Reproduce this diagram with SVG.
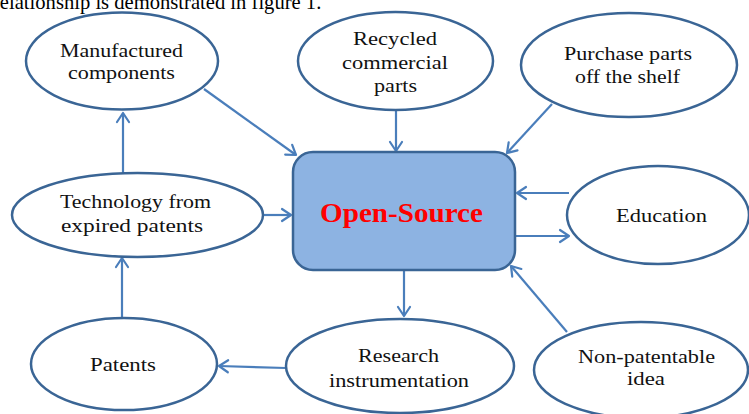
<svg xmlns="http://www.w3.org/2000/svg" width="749" height="414" viewBox="0 0 749 414">
<style>
.node ellipse{fill:#fff;stroke:#3A6595;stroke-width:2.5}
.t{font-family:'Liberation Serif',serif;font-size:19px;fill:#111;text-anchor:middle}
.big{font-family:'Liberation Serif',serif;font-size:27px;font-weight:bold;fill:#FF0000;text-anchor:middle}
.c line{stroke:#4A7EBB;stroke-width:2.2;fill:none;marker-end:url(#ah)}
</style>
<defs>
<marker id="ah" markerUnits="userSpaceOnUse" markerWidth="16" markerHeight="16" viewBox="-12 -8 14 16" refX="0" refY="0" orient="auto">
<path d="M-9,-6 L0,0 L-9,6" fill="none" stroke="#4A7EBB" stroke-width="2.2" stroke-linecap="round" stroke-linejoin="round"/>
</marker>
</defs>
<rect width="749" height="414" fill="#fff"/>
<text x="-7" y="8.5" font-family="'Liberation Serif',serif" font-size="20.6" fill="#000">relationship is demonstrated in figure 1.</text>
<g class="c" id="connectors">
<line x1="123" y1="173" x2="123" y2="113"/>
<line x1="122" y1="318" x2="122" y2="258"/>
<line x1="263" y1="215" x2="291" y2="215"/>
<line x1="204" y1="89" x2="296" y2="155"/>
<line x1="396" y1="110" x2="396" y2="151"/>
<line x1="552" y1="104" x2="507" y2="153"/>
<line x1="569" y1="193" x2="517" y2="193"/>
<line x1="515" y1="236" x2="569" y2="236"/>
<line x1="404" y1="270" x2="404" y2="316"/>
<line x1="286" y1="368" x2="219" y2="366"/>
<line x1="567" y1="332" x2="511" y2="266"/>
</g>
<g id="open-source">
<rect x="293" y="152" width="222" height="118" rx="20" ry="20" fill="#8DB3E2" stroke="#3A6595" stroke-width="2.5"/>
<text class="big" x="401.5" y="222" textLength="163" lengthAdjust="spacingAndGlyphs">Open-Source</text>
</g>
<g class="node" id="manufactured">
<ellipse cx="122" cy="61" rx="96" ry="48.5"/>
<text class="t" x="121.5" y="57" textLength="123" lengthAdjust="spacingAndGlyphs">Manufactured</text>
<text class="t" x="121.5" y="78.5" textLength="107" lengthAdjust="spacingAndGlyphs">components</text>
</g>
<g class="node" id="recycled">
<ellipse cx="395.5" cy="61" rx="97.5" ry="49"/>
<text class="t" x="395" y="45" textLength="84" lengthAdjust="spacingAndGlyphs">Recycled</text>
<text class="t" x="395" y="68.5" textLength="106" lengthAdjust="spacingAndGlyphs">commercial</text>
<text class="t" x="395.5" y="91.5" textLength="43" lengthAdjust="spacingAndGlyphs">parts</text>
</g>
<g class="node" id="purchase">
<ellipse cx="629" cy="65" rx="108" ry="52"/>
<text class="t" x="628" y="60" textLength="128" lengthAdjust="spacingAndGlyphs">Purchase parts</text>
<text class="t" x="627.5" y="83" textLength="105" lengthAdjust="spacingAndGlyphs">off the shelf</text>
</g>
<g class="node" id="technology">
<ellipse cx="137.5" cy="215" rx="125.5" ry="42"/>
<text class="t" x="135.5" y="208" textLength="151" lengthAdjust="spacingAndGlyphs">Technology from</text>
<text class="t" x="132" y="232" textLength="142" lengthAdjust="spacingAndGlyphs">expired patents</text>
</g>
<g class="node" id="education">
<ellipse cx="658" cy="215" rx="91" ry="49"/>
<text class="t" x="661.5" y="221.5" font-size="20" textLength="91" lengthAdjust="spacingAndGlyphs">Education</text>
</g>
<g class="node" id="patents">
<ellipse cx="124" cy="364" rx="93" ry="46"/>
<text class="t" x="123" y="370.5" font-size="20" textLength="66" lengthAdjust="spacingAndGlyphs">Patents</text>
</g>
<g class="node" id="research">
<ellipse cx="400" cy="366" rx="114" ry="47"/>
<text class="t" x="398.5" y="362" textLength="81" lengthAdjust="spacingAndGlyphs">Research</text>
<text class="t" x="399" y="387" textLength="140" lengthAdjust="spacingAndGlyphs">instrumentation</text>
</g>
<g class="node" id="nonpatentable">
<ellipse cx="641" cy="370" rx="107" ry="48"/>
<text class="t" x="646.5" y="363" textLength="137" lengthAdjust="spacingAndGlyphs">Non-patentable</text>
<text class="t" x="646" y="385" textLength="38" lengthAdjust="spacingAndGlyphs">idea</text>
</g>
</svg>
